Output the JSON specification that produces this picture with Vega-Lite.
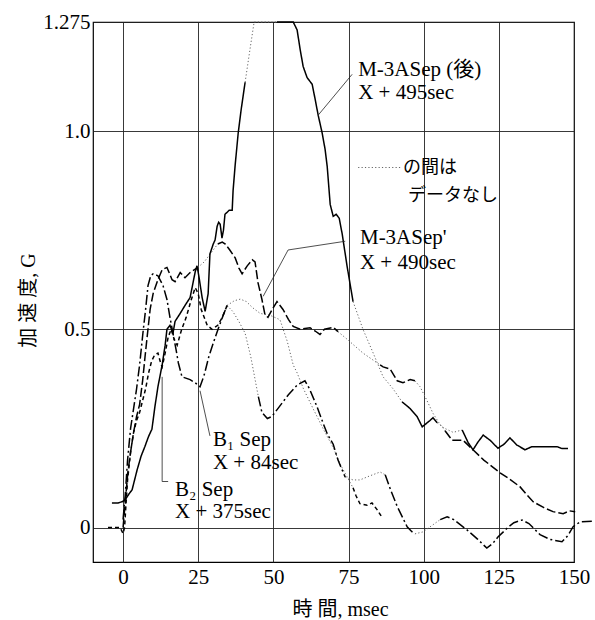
{
"$schema": "https://vega.github.io/schema/vega-lite/v6.json",
"autosize": {"type": "none"},
"padding": {"left": 93, "top": 22, "right": 21, "bottom": 58},
"width": 481,
"height": 540,
"background": "white",
"config": {"view": {"stroke": "#000", "strokeWidth": 1.2}},
"datasets": {
"curves": [
{"s":"M-3ASep(後)","k":"S1","p":"m","t":-3.7,"g":0.062},
{"s":"M-3ASep(後)","k":"S1","p":"m","t":-1.7,"g":0.062},
{"s":"M-3ASep(後)","k":"S1","p":"m","t":-0.3,"g":0.065},
{"s":"M-3ASep(後)","k":"S1","p":"m","t":0.7,"g":0.07},
{"s":"M-3ASep(後)","k":"S1","p":"m","t":2,"g":0.085},
{"s":"M-3ASep(後)","k":"S1","p":"m","t":3,"g":0.095},
{"s":"M-3ASep(後)","k":"S1","p":"m","t":4,"g":0.125},
{"s":"M-3ASep(後)","k":"S1","p":"m","t":4.7,"g":0.146},
{"s":"M-3ASep(後)","k":"S1","p":"m","t":6,"g":0.18},
{"s":"M-3ASep(後)","k":"S1","p":"m","t":7.3,"g":0.205},
{"s":"M-3ASep(後)","k":"S1","p":"m","t":8.5,"g":0.23},
{"s":"M-3ASep(後)","k":"S1","p":"m","t":9.6,"g":0.248},
{"s":"M-3ASep(後)","k":"S1","p":"m","t":10.6,"g":0.305},
{"s":"M-3ASep(後)","k":"S1","p":"m","t":11.6,"g":0.355},
{"s":"M-3ASep(後)","k":"S1","p":"m","t":13,"g":0.41},
{"s":"M-3ASep(後)","k":"S1","p":"m","t":14,"g":0.46},
{"s":"M-3ASep(後)","k":"S1","p":"m","t":14.6,"g":0.5},
{"s":"M-3ASep(後)","k":"S1","p":"m","t":15.6,"g":0.51},
{"s":"M-3ASep(後)","k":"S1","p":"m","t":16.6,"g":0.49},
{"s":"M-3ASep(後)","k":"S1","p":"m","t":17.3,"g":0.52},
{"s":"M-3ASep(後)","k":"S1","p":"m","t":19,"g":0.54},
{"s":"M-3ASep(後)","k":"S1","p":"m","t":20.6,"g":0.56},
{"s":"M-3ASep(後)","k":"S1","p":"m","t":22.3,"g":0.58},
{"s":"M-3ASep(後)","k":"S1","p":"m","t":24,"g":0.645},
{"s":"M-3ASep(後)","k":"S1","p":"m","t":24.6,"g":0.66},
{"s":"M-3ASep(後)","k":"S1","p":"m","t":25.3,"g":0.63},
{"s":"M-3ASep(後)","k":"S1","p":"m","t":26.3,"g":0.58},
{"s":"M-3ASep(後)","k":"S1","p":"m","t":27.3,"g":0.545},
{"s":"M-3ASep(後)","k":"S1","p":"m","t":28.3,"g":0.59},
{"s":"M-3ASep(後)","k":"S1","p":"m","t":28.9,"g":0.69},
{"s":"M-3ASep(後)","k":"S1","p":"m","t":30,"g":0.715},
{"s":"M-3ASep(後)","k":"S1","p":"m","t":30.6,"g":0.725},
{"s":"M-3ASep(後)","k":"S1","p":"m","t":31.3,"g":0.76},
{"s":"M-3ASep(後)","k":"S1","p":"m","t":31.8,"g":0.77},
{"s":"M-3ASep(後)","k":"S1","p":"m","t":32.3,"g":0.765},
{"s":"M-3ASep(後)","k":"S1","p":"m","t":32.9,"g":0.73},
{"s":"M-3ASep(後)","k":"S1","p":"m","t":33.4,"g":0.75},
{"s":"M-3ASep(後)","k":"S1","p":"m","t":33.9,"g":0.79},
{"s":"M-3ASep(後)","k":"S1","p":"m","t":35.3,"g":0.8},
{"s":"M-3ASep(後)","k":"S1","p":"m","t":36.3,"g":0.8},
{"s":"M-3ASep(後)","k":"S1","p":"m","t":36.6,"g":0.85},
{"s":"M-3ASep(後)","k":"S1","p":"m","t":37.3,"g":0.915},
{"s":"M-3ASep(後)","k":"S1","p":"m","t":38.3,"g":0.995},
{"s":"M-3ASep(後)","k":"S1","p":"m","t":39.3,"g":1.055},
{"s":"M-3ASep(後)","k":"S1","p":"m","t":40.6,"g":1.123},
{"s":"M-3ASep(後)","k":"S2","p":"n","t":40.6,"g":1.123},
{"s":"M-3ASep(後)","k":"S2","p":"n","t":42.2,"g":1.205},
{"s":"M-3ASep(後)","k":"S2","p":"n","t":43.6,"g":1.275},
{"s":"M-3ASep(後)","k":"S2","p":"n","t":51.2,"g":1.275},
{"s":"M-3ASep(後)","k":"S3","p":"m","t":51.2,"g":1.275},
{"s":"M-3ASep(後)","k":"S3","p":"m","t":56.6,"g":1.275},
{"s":"M-3ASep(後)","k":"S3","p":"m","t":57.9,"g":1.255},
{"s":"M-3ASep(後)","k":"S3","p":"m","t":58.9,"g":1.206},
{"s":"M-3ASep(後)","k":"S3","p":"m","t":59.9,"g":1.163},
{"s":"M-3ASep(後)","k":"S3","p":"m","t":61.2,"g":1.135},
{"s":"M-3ASep(後)","k":"S3","p":"m","t":62.9,"g":1.118},
{"s":"M-3ASep(後)","k":"S3","p":"m","t":63.9,"g":1.08},
{"s":"M-3ASep(後)","k":"S3","p":"m","t":64.9,"g":1.04},
{"s":"M-3ASep(後)","k":"S3","p":"m","t":66.2,"g":0.996},
{"s":"M-3ASep(後)","k":"S3","p":"m","t":67.2,"g":0.954},
{"s":"M-3ASep(後)","k":"S3","p":"m","t":67.9,"g":0.911},
{"s":"M-3ASep(後)","k":"S3","p":"m","t":68.9,"g":0.815},
{"s":"M-3ASep(後)","k":"S3","p":"m","t":69.9,"g":0.785},
{"s":"M-3ASep(後)","k":"S3","p":"m","t":70.9,"g":0.79},
{"s":"M-3ASep(後)","k":"S3","p":"m","t":71.9,"g":0.78},
{"s":"M-3ASep(後)","k":"S3","p":"m","t":72.9,"g":0.74},
{"s":"M-3ASep(後)","k":"S3","p":"m","t":74.5,"g":0.66},
{"s":"M-3ASep(後)","k":"S3","p":"m","t":76.5,"g":0.57},
{"s":"M-3ASep(後)","k":"S4","p":"n","t":76.5,"g":0.57},
{"s":"M-3ASep(後)","k":"S4","p":"n","t":79.8,"g":0.5},
{"s":"M-3ASep(後)","k":"S4","p":"n","t":83.2,"g":0.44},
{"s":"M-3ASep(後)","k":"S4","p":"n","t":86.5,"g":0.38},
{"s":"M-3ASep(後)","k":"S4","p":"n","t":89.8,"g":0.35},
{"s":"M-3ASep(後)","k":"S4","p":"n","t":92.8,"g":0.317},
{"s":"M-3ASep(後)","k":"S5","p":"m","t":92.8,"g":0.317},
{"s":"M-3ASep(後)","k":"S5","p":"m","t":95.5,"g":0.3},
{"s":"M-3ASep(後)","k":"S5","p":"m","t":97.8,"g":0.28},
{"s":"M-3ASep(後)","k":"S5","p":"m","t":99.5,"g":0.254},
{"s":"M-3ASep(後)","k":"S5","p":"m","t":100.5,"g":0.26},
{"s":"M-3ASep(後)","k":"S5","p":"m","t":102.1,"g":0.27},
{"s":"M-3ASep(後)","k":"S5","p":"m","t":103.1,"g":0.277},
{"s":"M-3ASep(後)","k":"S5","p":"m","t":104.5,"g":0.264},
{"s":"M-3ASep(後)","k":"S6","p":"n","t":104.5,"g":0.264},
{"s":"M-3ASep(後)","k":"S6","p":"n","t":107,"g":0.25},
{"s":"M-3ASep(後)","k":"S6","p":"n","t":109.8,"g":0.24},
{"s":"M-3ASep(後)","k":"S6","p":"n","t":112.8,"g":0.246},
{"s":"M-3ASep(後)","k":"S7","p":"m","t":112.8,"g":0.246},
{"s":"M-3ASep(後)","k":"S7","p":"m","t":114.8,"g":0.214},
{"s":"M-3ASep(後)","k":"S7","p":"m","t":116.4,"g":0.196},
{"s":"M-3ASep(後)","k":"S7","p":"m","t":118.1,"g":0.216},
{"s":"M-3ASep(後)","k":"S7","p":"m","t":119.8,"g":0.233},
{"s":"M-3ASep(後)","k":"S7","p":"m","t":122.1,"g":0.22},
{"s":"M-3ASep(後)","k":"S7","p":"m","t":124.7,"g":0.2},
{"s":"M-3ASep(後)","k":"S7","p":"m","t":126.7,"g":0.21},
{"s":"M-3ASep(後)","k":"S7","p":"m","t":128.7,"g":0.226},
{"s":"M-3ASep(後)","k":"S7","p":"m","t":131,"g":0.208},
{"s":"M-3ASep(後)","k":"S7","p":"m","t":133.7,"g":0.196},
{"s":"M-3ASep(後)","k":"S7","p":"m","t":136,"g":0.204},
{"s":"M-3ASep(後)","k":"S7","p":"m","t":138.7,"g":0.204},
{"s":"M-3ASep(後)","k":"S7","p":"m","t":144.4,"g":0.204},
{"s":"M-3ASep(後)","k":"S7","p":"m","t":146,"g":0.199},
{"s":"M-3ASep(後)","k":"S7","p":"m","t":148,"g":0.199},

{"s":"M-3ASep'","k":"P1","p":"m","t":0,"g":0.0},
{"s":"M-3ASep'","k":"P1","p":"m","t":0.8,"g":0.07},
{"s":"M-3ASep'","k":"P1","p":"m","t":1.6,"g":0.14},
{"s":"M-3ASep'","k":"P1","p":"m","t":2.5,"g":0.19},
{"s":"M-3ASep'","k":"P1","p":"m","t":3.5,"g":0.24},
{"s":"M-3ASep'","k":"P1","p":"m","t":4.5,"g":0.28},
{"s":"M-3ASep'","k":"P1","p":"m","t":5.5,"g":0.31},
{"s":"M-3ASep'","k":"P1","p":"m","t":6.5,"g":0.37},
{"s":"M-3ASep'","k":"P1","p":"m","t":7.3,"g":0.43},
{"s":"M-3ASep'","k":"P1","p":"m","t":8,"g":0.48},
{"s":"M-3ASep'","k":"P1","p":"m","t":9,"g":0.55},
{"s":"M-3ASep'","k":"P1","p":"m","t":10,"g":0.59},
{"s":"M-3ASep'","k":"P1","p":"m","t":11.6,"g":0.625},
{"s":"M-3ASep'","k":"P1","p":"m","t":13,"g":0.65},
{"s":"M-3ASep'","k":"P1","p":"m","t":14.6,"g":0.656},
{"s":"M-3ASep'","k":"P1","p":"m","t":16.3,"g":0.625},
{"s":"M-3ASep'","k":"P1","p":"m","t":17.3,"g":0.62},
{"s":"M-3ASep'","k":"P1","p":"m","t":19,"g":0.643},
{"s":"M-3ASep'","k":"P1","p":"m","t":20.6,"g":0.63},
{"s":"M-3ASep'","k":"P1","p":"m","t":22.3,"g":0.643},
{"s":"M-3ASep'","k":"P1","p":"m","t":24.9,"g":0.656},
{"s":"M-3ASep'","k":"P2","p":"n","t":24.9,"g":0.656},
{"s":"M-3ASep'","k":"P2","p":"n","t":27,"g":0.67},
{"s":"M-3ASep'","k":"P2","p":"n","t":29,"g":0.69},
{"s":"M-3ASep'","k":"P2","p":"n","t":31.5,"g":0.715},
{"s":"M-3ASep'","k":"P3","p":"m","t":31.5,"g":0.715},
{"s":"M-3ASep'","k":"P3","p":"m","t":33,"g":0.72},
{"s":"M-3ASep'","k":"P3","p":"m","t":34,"g":0.715},
{"s":"M-3ASep'","k":"P3","p":"m","t":35.5,"g":0.7},
{"s":"M-3ASep'","k":"P3","p":"m","t":37.3,"g":0.68},
{"s":"M-3ASep'","k":"P3","p":"m","t":38.5,"g":0.655},
{"s":"M-3ASep'","k":"P3","p":"m","t":39.6,"g":0.64},
{"s":"M-3ASep'","k":"P3","p":"m","t":41.3,"g":0.66},
{"s":"M-3ASep'","k":"P3","p":"m","t":43,"g":0.675},
{"s":"M-3ASep'","k":"P3","p":"m","t":43.9,"g":0.67},
{"s":"M-3ASep'","k":"P3","p":"m","t":44.9,"g":0.617},
{"s":"M-3ASep'","k":"P3","p":"m","t":46.2,"g":0.575},
{"s":"M-3ASep'","k":"P3","p":"m","t":47.2,"g":0.537},
{"s":"M-3ASep'","k":"P3","p":"m","t":48.2,"g":0.53},
{"s":"M-3ASep'","k":"P3","p":"m","t":49.6,"g":0.55},
{"s":"M-3ASep'","k":"P3","p":"m","t":51.2,"g":0.57},
{"s":"M-3ASep'","k":"P3","p":"m","t":53.2,"g":0.55},
{"s":"M-3ASep'","k":"P3","p":"m","t":55,"g":0.525},
{"s":"M-3ASep'","k":"P3","p":"m","t":56.6,"g":0.507},
{"s":"M-3ASep'","k":"P3","p":"m","t":58.9,"g":0.5},
{"s":"M-3ASep'","k":"P3","p":"m","t":62.2,"g":0.504},
{"s":"M-3ASep'","k":"P3","p":"m","t":64,"g":0.495},
{"s":"M-3ASep'","k":"P3","p":"m","t":65.5,"g":0.487},
{"s":"M-3ASep'","k":"P3","p":"m","t":67,"g":0.5},
{"s":"M-3ASep'","k":"P3","p":"m","t":69.9,"g":0.505},
{"s":"M-3ASep'","k":"P3","p":"m","t":71.5,"g":0.494},
{"s":"M-3ASep'","k":"P4","p":"n","t":71.5,"g":0.494},
{"s":"M-3ASep'","k":"P4","p":"n","t":74.5,"g":0.475},
{"s":"M-3ASep'","k":"P4","p":"n","t":79.8,"g":0.44},
{"s":"M-3ASep'","k":"P4","p":"n","t":85.5,"g":0.41},
{"s":"M-3ASep'","k":"P5","p":"m","t":85.5,"g":0.41},
{"s":"M-3ASep'","k":"P5","p":"m","t":86.5,"g":0.405},
{"s":"M-3ASep'","k":"P5","p":"m","t":88.8,"g":0.4},
{"s":"M-3ASep'","k":"P5","p":"m","t":91.2,"g":0.37},
{"s":"M-3ASep'","k":"P5","p":"m","t":93.1,"g":0.365},
{"s":"M-3ASep'","k":"P5","p":"m","t":95.5,"g":0.373},
{"s":"M-3ASep'","k":"P5","p":"m","t":97.1,"g":0.37},
{"s":"M-3ASep'","k":"P6","p":"n","t":97.1,"g":0.37},
{"s":"M-3ASep'","k":"P6","p":"n","t":98.8,"g":0.355},
{"s":"M-3ASep'","k":"P6","p":"n","t":101.1,"g":0.32},
{"s":"M-3ASep'","k":"P6","p":"n","t":103.1,"g":0.288},
{"s":"M-3ASep'","k":"P6","p":"n","t":105,"g":0.265},
{"s":"M-3ASep'","k":"P6","p":"n","t":107.1,"g":0.244},
{"s":"M-3ASep'","k":"P7","p":"m","t":107.1,"g":0.244},
{"s":"M-3ASep'","k":"P7","p":"m","t":109.5,"g":0.22},
{"s":"M-3ASep'","k":"P7","p":"m","t":113.1,"g":0.22},
{"s":"M-3ASep'","k":"P7","p":"m","t":116.4,"g":0.196},
{"s":"M-3ASep'","k":"P7","p":"m","t":120,"g":0.17},
{"s":"M-3ASep'","k":"P7","p":"m","t":125.4,"g":0.138},
{"s":"M-3ASep'","k":"P7","p":"m","t":128,"g":0.125},
{"s":"M-3ASep'","k":"P7","p":"m","t":132,"g":0.103},
{"s":"M-3ASep'","k":"P7","p":"m","t":134,"g":0.085},
{"s":"M-3ASep'","k":"P7","p":"m","t":136.4,"g":0.065},
{"s":"M-3ASep'","k":"P7","p":"m","t":140,"g":0.05},
{"s":"M-3ASep'","k":"P7","p":"m","t":143,"g":0.04},
{"s":"M-3ASep'","k":"P7","p":"m","t":146.4,"g":0.035},
{"s":"M-3ASep'","k":"P7","p":"m","t":148.5,"g":0.042},
{"s":"M-3ASep'","k":"P7","p":"m","t":150.4,"g":0.04},

{"s":"B1 Sep","k":"B1a","p":"m","t":0,"g":0.02},
{"s":"B1 Sep","k":"B1a","p":"m","t":0.7,"g":0.08},
{"s":"B1 Sep","k":"B1a","p":"m","t":1.5,"g":0.17},
{"s":"B1 Sep","k":"B1a","p":"m","t":2.5,"g":0.25},
{"s":"B1 Sep","k":"B1a","p":"m","t":3.5,"g":0.3},
{"s":"B1 Sep","k":"B1a","p":"m","t":4.5,"g":0.35},
{"s":"B1 Sep","k":"B1a","p":"m","t":5.5,"g":0.41},
{"s":"B1 Sep","k":"B1a","p":"m","t":6.6,"g":0.49},
{"s":"B1 Sep","k":"B1a","p":"m","t":7.5,"g":0.55},
{"s":"B1 Sep","k":"B1a","p":"m","t":8.3,"g":0.61},
{"s":"B1 Sep","k":"B1a","p":"m","t":9.2,"g":0.635},
{"s":"B1 Sep","k":"B1a","p":"m","t":10,"g":0.64},
{"s":"B1 Sep","k":"B1a","p":"m","t":11.6,"g":0.635},
{"s":"B1 Sep","k":"B1a","p":"m","t":13.3,"g":0.61},
{"s":"B1 Sep","k":"B1a","p":"m","t":14.6,"g":0.575},
{"s":"B1 Sep","k":"B1a","p":"m","t":15.6,"g":0.53},
{"s":"B1 Sep","k":"B1a","p":"m","t":16.6,"g":0.49},
{"s":"B1 Sep","k":"B1a","p":"m","t":17.6,"g":0.45},
{"s":"B1 Sep","k":"B1a","p":"m","t":18.4,"g":0.415},
{"s":"B1 Sep","k":"B1a","p":"m","t":19.6,"g":0.38},
{"s":"B1 Sep","k":"B1a","p":"m","t":22.3,"g":0.373},
{"s":"B1 Sep","k":"B1a","p":"m","t":24,"g":0.365},
{"s":"B1 Sep","k":"B1a","p":"m","t":25.6,"g":0.355},
{"s":"B1 Sep","k":"B1a","p":"m","t":27,"g":0.385},
{"s":"B1 Sep","k":"B1a","p":"m","t":28.5,"g":0.43},
{"s":"B1 Sep","k":"B1a","p":"m","t":30,"g":0.465},
{"s":"B1 Sep","k":"B1a","p":"m","t":31.6,"g":0.5},
{"s":"B1 Sep","k":"B1a","p":"m","t":33.3,"g":0.535},
{"s":"B1 Sep","k":"B1a","p":"m","t":34.6,"g":0.56},
{"s":"B1 Sep","k":"B1b","p":"n","t":34.6,"g":0.56},
{"s":"B1 Sep","k":"B1b","p":"n","t":36.5,"g":0.545},
{"s":"B1 Sep","k":"B1b","p":"n","t":38.5,"g":0.52},
{"s":"B1 Sep","k":"B1b","p":"n","t":40.6,"g":0.49},
{"s":"B1 Sep","k":"B1b","p":"n","t":42.5,"g":0.43},
{"s":"B1 Sep","k":"B1b","p":"n","t":44,"g":0.37},
{"s":"B1 Sep","k":"B1b","p":"n","t":45,"g":0.33},
{"s":"B1 Sep","k":"B1c","p":"m","t":45,"g":0.33},
{"s":"B1 Sep","k":"B1c","p":"m","t":46.2,"g":0.29},
{"s":"B1 Sep","k":"B1c","p":"m","t":48,"g":0.275},
{"s":"B1 Sep","k":"B1c","p":"m","t":49.5,"g":0.28},
{"s":"B1 Sep","k":"B1c","p":"m","t":52,"g":0.305},
{"s":"B1 Sep","k":"B1c","p":"m","t":55,"g":0.335},
{"s":"B1 Sep","k":"B1c","p":"m","t":58,"g":0.36},
{"s":"B1 Sep","k":"B1c","p":"m","t":60.5,"g":0.37},
{"s":"B1 Sep","k":"B1c","p":"m","t":62,"g":0.35},
{"s":"B1 Sep","k":"B1c","p":"m","t":64.5,"g":0.305},
{"s":"B1 Sep","k":"B1c","p":"m","t":66.5,"g":0.264},
{"s":"B1 Sep","k":"B1c","p":"m","t":68,"g":0.235},
{"s":"B1 Sep","k":"B1c","p":"m","t":69.9,"g":0.21},
{"s":"B1 Sep","k":"B1c","p":"m","t":71.5,"g":0.17},
{"s":"B1 Sep","k":"B1c","p":"m","t":73.9,"g":0.127},
{"s":"B1 Sep","k":"B1d","p":"n","t":73.9,"g":0.127},
{"s":"B1 Sep","k":"B1d","p":"n","t":76.5,"g":0.12},
{"s":"B1 Sep","k":"B1d","p":"n","t":78.8,"g":0.12},
{"s":"B1 Sep","k":"B1d","p":"n","t":82,"g":0.13},
{"s":"B1 Sep","k":"B1d","p":"n","t":85.5,"g":0.14},
{"s":"B1 Sep","k":"B1d","p":"n","t":87.2,"g":0.133},
{"s":"B1 Sep","k":"B1e","p":"m","t":87.2,"g":0.133},
{"s":"B1 Sep","k":"B1e","p":"m","t":89,"g":0.095},
{"s":"B1 Sep","k":"B1e","p":"m","t":91.2,"g":0.053},
{"s":"B1 Sep","k":"B1e","p":"m","t":93,"g":0.025},
{"s":"B1 Sep","k":"B1e","p":"m","t":94.5,"g":0.002},
{"s":"B1 Sep","k":"B1e","p":"m","t":96,"g":-0.01},
{"s":"B1 Sep","k":"B1e","p":"m","t":97.1,"g":-0.016},
{"s":"B1 Sep","k":"B1f","p":"n","t":97.1,"g":-0.016},
{"s":"B1 Sep","k":"B1f","p":"n","t":99.8,"g":-0.011},
{"s":"B1 Sep","k":"B1f","p":"n","t":103.1,"g":0.007},
{"s":"B1 Sep","k":"B1f","p":"n","t":105.5,"g":0.02},
{"s":"B1 Sep","k":"B1g","p":"m","t":105.5,"g":0.02},
{"s":"B1 Sep","k":"B1g","p":"m","t":107.8,"g":0.027},
{"s":"B1 Sep","k":"B1g","p":"m","t":110,"g":0.02},
{"s":"B1 Sep","k":"B1g","p":"m","t":114.4,"g":-0.006},
{"s":"B1 Sep","k":"B1g","p":"m","t":118,"g":-0.03},
{"s":"B1 Sep","k":"B1g","p":"m","t":121,"g":-0.052},
{"s":"B1 Sep","k":"B1g","p":"m","t":123,"g":-0.04},
{"s":"B1 Sep","k":"B1g","p":"m","t":124.7,"g":-0.024},
{"s":"B1 Sep","k":"B1g","p":"m","t":128,"g":0.0},
{"s":"B1 Sep","k":"B1g","p":"m","t":130,"g":0.012},
{"s":"B1 Sep","k":"B1g","p":"m","t":132.7,"g":0.019},
{"s":"B1 Sep","k":"B1g","p":"m","t":135,"g":0.01},
{"s":"B1 Sep","k":"B1g","p":"m","t":138.7,"g":-0.018},
{"s":"B1 Sep","k":"B1g","p":"m","t":142,"g":-0.03},
{"s":"B1 Sep","k":"B1g","p":"m","t":146,"g":-0.036},
{"s":"B1 Sep","k":"B1g","p":"m","t":148,"g":-0.02},
{"s":"B1 Sep","k":"B1g","p":"m","t":149.7,"g":0.002},
{"s":"B1 Sep","k":"B1g","p":"m","t":152,"g":0.014},
{"s":"B1 Sep","k":"B1g","p":"m","t":156,"g":0.016},

{"s":"B2 Sep","k":"B2a","p":"m","t":-5,"g":0.0},
{"s":"B2 Sep","k":"B2a","p":"m","t":-1,"g":0.0},
{"s":"B2 Sep","k":"B2a","p":"m","t":0,"g":-0.015},
{"s":"B2 Sep","k":"B2a","p":"m","t":0.5,"g":0.0},
{"s":"B2 Sep","k":"B2a","p":"m","t":0.9,"g":0.05},
{"s":"B2 Sep","k":"B2a","p":"m","t":1.5,"g":0.12},
{"s":"B2 Sep","k":"B2a","p":"m","t":2.5,"g":0.19},
{"s":"B2 Sep","k":"B2a","p":"m","t":3.5,"g":0.24},
{"s":"B2 Sep","k":"B2a","p":"m","t":4.5,"g":0.27},
{"s":"B2 Sep","k":"B2a","p":"m","t":5.5,"g":0.29},
{"s":"B2 Sep","k":"B2a","p":"m","t":6.5,"g":0.32},
{"s":"B2 Sep","k":"B2a","p":"m","t":7.5,"g":0.35},
{"s":"B2 Sep","k":"B2a","p":"m","t":8.5,"g":0.39},
{"s":"B2 Sep","k":"B2a","p":"m","t":9.5,"g":0.42},
{"s":"B2 Sep","k":"B2a","p":"m","t":10.5,"g":0.435},
{"s":"B2 Sep","k":"B2a","p":"m","t":11.6,"g":0.44},
{"s":"B2 Sep","k":"B2a","p":"m","t":12.5,"g":0.415},
{"s":"B2 Sep","k":"B2a","p":"m","t":13,"g":0.405},
{"s":"B2 Sep","k":"B2a","p":"m","t":14,"g":0.44},
{"s":"B2 Sep","k":"B2a","p":"m","t":15,"g":0.48},
{"s":"B2 Sep","k":"B2a","p":"m","t":16,"g":0.5},
{"s":"B2 Sep","k":"B2a","p":"m","t":17,"g":0.475},
{"s":"B2 Sep","k":"B2a","p":"m","t":18,"g":0.46},
{"s":"B2 Sep","k":"B2a","p":"m","t":19.5,"g":0.5},
{"s":"B2 Sep","k":"B2a","p":"m","t":21,"g":0.53},
{"s":"B2 Sep","k":"B2a","p":"m","t":22.5,"g":0.57},
{"s":"B2 Sep","k":"B2a","p":"m","t":24,"g":0.605},
{"s":"B2 Sep","k":"B2a","p":"m","t":25,"g":0.59},
{"s":"B2 Sep","k":"B2a","p":"m","t":26,"g":0.55},
{"s":"B2 Sep","k":"B2a","p":"m","t":28,"g":0.51},
{"s":"B2 Sep","k":"B2a","p":"m","t":29.6,"g":0.5},
{"s":"B2 Sep","k":"B2a","p":"m","t":31.5,"g":0.51},
{"s":"B2 Sep","k":"B2a","p":"m","t":33,"g":0.53},
{"s":"B2 Sep","k":"B2a","p":"m","t":34.6,"g":0.56},
{"s":"B2 Sep","k":"B2b","p":"n","t":34.6,"g":0.56},
{"s":"B2 Sep","k":"B2b","p":"n","t":37,"g":0.572},
{"s":"B2 Sep","k":"B2b","p":"n","t":39,"g":0.576},
{"s":"B2 Sep","k":"B2b","p":"n","t":41,"g":0.57},
{"s":"B2 Sep","k":"B2b","p":"n","t":43,"g":0.555},
{"s":"B2 Sep","k":"B2b","p":"n","t":45.6,"g":0.54},
{"s":"B2 Sep","k":"B2b","p":"n","t":49,"g":0.535},
{"s":"B2 Sep","k":"B2b","p":"n","t":52.2,"g":0.524},
{"s":"B2 Sep","k":"B2b","p":"n","t":54.6,"g":0.47},
{"s":"B2 Sep","k":"B2b","p":"n","t":56.6,"g":0.41},
{"s":"B2 Sep","k":"B2b","p":"n","t":57.9,"g":0.39},
{"s":"B2 Sep","k":"B2b","p":"n","t":60,"g":0.35},
{"s":"B2 Sep","k":"B2b","p":"n","t":63.2,"g":0.3},
{"s":"B2 Sep","k":"B2b","p":"n","t":66.5,"g":0.25},
{"s":"B2 Sep","k":"B2b","p":"n","t":70,"g":0.2},
{"s":"B2 Sep","k":"B2b","p":"n","t":72.2,"g":0.16},
{"s":"B2 Sep","k":"B2b","p":"n","t":74.5,"g":0.128},
{"s":"B2 Sep","k":"B2b","p":"n","t":76.5,"g":0.1},
{"s":"B2 Sep","k":"B2c","p":"m","t":76.5,"g":0.1},
{"s":"B2 Sep","k":"B2c","p":"m","t":77.5,"g":0.08},
{"s":"B2 Sep","k":"B2c","p":"m","t":78.8,"g":0.06},
{"s":"B2 Sep","k":"B2c","p":"m","t":81.2,"g":0.056},
{"s":"B2 Sep","k":"B2c","p":"m","t":82.8,"g":0.062},
{"s":"B2 Sep","k":"B2c","p":"m","t":84.5,"g":0.045},
{"s":"B2 Sep","k":"B2c","p":"m","t":86.2,"g":0.025}
],
"leaders": [
{"id":"L1","i":1,"t":76.2,"g":1.143},{"id":"L1","i":2,"t":64.9,"g":1.04},
{"id":"L2","i":1,"t":73.9,"g":0.722},{"id":"L2","i":2,"t":54.9,"g":0.70},{"id":"L2","i":3,"t":46.6,"g":0.583},
{"id":"L3","i":1,"t":28.9,"g":0.231},{"id":"L3","i":2,"t":25.6,"g":0.345},
{"id":"L4","i":1,"t":13,"g":0.38},{"id":"L4","i":2,"t":13,"g":0.116},{"id":"L4","i":3,"t":15,"g":0.116}
],
"sample": [
{"t":78.2,"g":0.908},{"t":92.6,"g":0.908}
],
"notes": [
{"label":"M-3ASep (後)","t":78.2,"g":1.153},
{"label":"X + 495sec","t":78.2,"g":1.096},
{"label":"M-3ASep'","t":78.8,"g":0.731},
{"label":"X + 490sec","t":78.8,"g":0.668},
{"label":"B₁ Sep","t":29.9,"g":0.221},
{"label":"X + 84sec","t":29.9,"g":0.163},
{"label":"B₂ Sep","t":17.3,"g":0.095},
{"label":"X + 375sec","t":17.3,"g":0.04}
],
"notes_ja": [
{"label":"の間は","t":93.1,"g":0.908},
{"label":"データなし","t":94.8,"g":0.837}
]
},
"encoding": {
"x": {"field":"t","type":"quantitative",
 "scale":{"domain":[-10,150],"nice":false,"zero":false},
 "axis":{"values":[0,25,50,75,100,125,150],"grid":true,"ticks":false,"domain":false,
  "gridColor":"#222","gridWidth":0.9,"gridOpacity":1,
  "labelFont":"Liberation Serif, DejaVu Serif, serif","labelFontSize":21,"labelColor":"#000","labelPadding":4,"labelFlush":false,"labelOverlap":false,
  "title":"時 間,  msec","titleFont":"Liberation Serif, Noto Sans CJK JP, serif","titleFontSize":20,"titleFontWeight":"normal","titleColor":"#000",
  "titleX":247,"titleY":47,"titleBaseline":"middle","titleAnchor":null}},
"y": {"field":"g","type":"quantitative",
 "scale":{"domain":[-0.087,1.275],"nice":false,"zero":false},
 "axis":{"values":[0,0.5,1,1.275],"grid":true,"ticks":false,"domain":false,
  "gridColor":"#222","gridWidth":0.9,"gridOpacity":1,
  "labelExpr":"datum.value == 1.275 ? '1.275' : (datum.value == 0 ? '0' : format(datum.value, '.1f'))",
  "labelFont":"Liberation Serif, DejaVu Serif, serif","labelFontSize":21,"labelColor":"#000","labelPadding":3,"labelFlush":false,"labelOverlap":false,
  "title":"加 速 度,  G","titleFont":"Liberation Serif, Noto Sans CJK JP, serif","titleFontSize":20,"titleFontWeight":"normal","titleColor":"#000",
  "titleX":-65,"titleY":278,"titleBaseline":"middle","titleAngle":-90}}
},
"layer": [
{"data":{"name":"curves"},"transform":[{"filter":"datum.p == 'n'"}],
 "mark":{"type":"line","color":"#666","strokeWidth":1,"strokeDash":[1.2,2.2]},
 "encoding":{"detail":{"field":"k"}}},
{"data":{"name":"curves"},"transform":[{"filter":"datum.p == 'm'"}],
 "mark":{"type":"line","color":"#000","strokeWidth":1.5},
 "encoding":{"detail":{"field":"k"},
  "strokeDash":{"field":"s","type":"nominal","legend":null,
   "scale":{"domain":["M-3ASep(後)","M-3ASep'","B1 Sep","B2 Sep"],"range":[[1,0],[9,3],[10,3,2,3],[4,3]]}}}},
{"data":{"name":"leaders"},
 "mark":{"type":"line","color":"#222","strokeWidth":0.8},
 "encoding":{"detail":{"field":"id"},"order":{"field":"i"}}},
{"data":{"name":"sample"},
 "mark":{"type":"line","color":"#666","strokeWidth":1,"strokeDash":[1.2,2.2]},
 "encoding":{}},
{"data":{"name":"notes"},
 "mark":{"type":"text","align":"left","baseline":"middle","font":"Liberation Serif, Noto Sans CJK JP, serif","fontSize":21,"color":"#000"},
 "encoding":{"text":{"field":"label"}}},
{"data":{"name":"notes_ja"},
 "mark":{"type":"text","align":"left","baseline":"middle","font":"Noto Sans CJK JP","fontSize":18,"color":"#000"},
 "encoding":{"text":{"field":"label"}}}
]
}
